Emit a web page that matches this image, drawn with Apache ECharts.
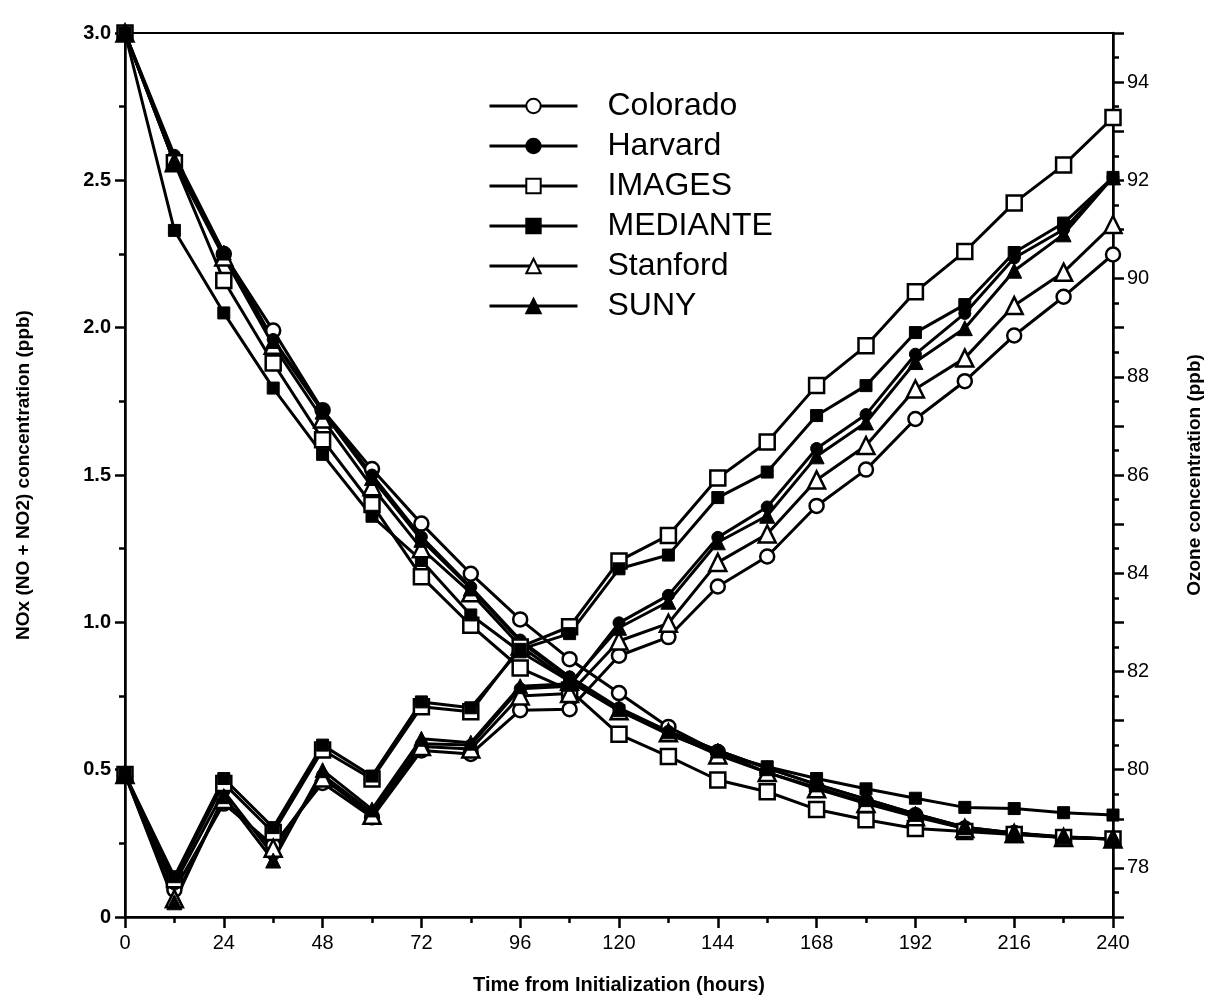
<!DOCTYPE html>
<html>
<head>
<meta charset="utf-8">
<title>NOx and ozone decay</title>
<script src="https://cdn.jsdelivr.net/npm/echarts@6/dist/echarts.min.js"></script>
<style>
  html, body { margin: 0; padding: 0; background: #fff; }
  #chart { width: 1212px; height: 1002px; }
</style>
</head>
<body>
<div id="chart"></div>
<script>
// Simulation time, hours after initialization
const hours = [0, 12, 24, 36, 48, 60, 72, 84, 96, 108, 120, 132, 144, 156, 168, 180, 192, 204, 216, 228, 240];

// NOx (NO + NO2), ppb
const noxColorado = [3.0, 2.57, 2.25, 1.99, 1.72, 1.52, 1.335, 1.165, 1.01, 0.875, 0.76, 0.645, 0.56, 0.49, 0.44, 0.39, 0.345, 0.30, 0.285, 0.27, 0.265];
const noxHarvard  = [3.0, 2.585, 2.255, 1.96, 1.72, 1.50, 1.29, 1.12, 0.94, 0.815, 0.71, 0.63, 0.565, 0.505, 0.45, 0.40, 0.35, 0.305, 0.285, 0.27, 0.265];
const noxImages   = [3.0, 2.56, 2.16, 1.88, 1.62, 1.40, 1.155, 0.99, 0.845, 0.77, 0.62, 0.545, 0.465, 0.425, 0.365, 0.33, 0.30, 0.29, 0.28, 0.27, 0.265];
const noxMediante = [3.0, 2.33, 2.05, 1.795, 1.57, 1.36, 1.21, 1.025, 0.90, 0.80, 0.70, 0.62, 0.556, 0.51, 0.47, 0.435, 0.403, 0.372, 0.368, 0.354, 0.346];
const noxStanford = [3.0, 2.56, 2.24, 1.94, 1.69, 1.46, 1.25, 1.10, 0.92, 0.80, 0.70, 0.625, 0.55, 0.49, 0.435, 0.385, 0.34, 0.30, 0.283, 0.27, 0.265];
const noxSuny     = [3.0, 2.56, 2.255, 1.955, 1.715, 1.49, 1.28, 1.115, 0.935, 0.81, 0.705, 0.63, 0.565, 0.505, 0.45, 0.40, 0.35, 0.305, 0.285, 0.272, 0.265];

// Ozone, ppb
const o3Colorado = [79.9, 77.55, 79.31, 78.46, 79.73, 79.03, 80.39, 80.32, 81.21, 81.23, 82.32, 82.70, 83.73, 84.34, 85.37, 86.11, 87.14, 87.91, 88.84, 89.63, 90.49];
const o3Harvard  = [79.9, 77.67, 79.56, 78.26, 79.89, 79.13, 80.53, 80.50, 81.65, 81.70, 82.99, 83.55, 84.73, 85.35, 86.54, 87.23, 88.46, 89.29, 90.42, 91.00, 92.06];
const o3Images   = [79.9, 77.76, 79.72, 78.72, 80.40, 79.81, 81.28, 81.18, 82.50, 82.91, 84.25, 84.77, 85.94, 86.67, 87.82, 88.63, 89.73, 90.55, 91.54, 92.31, 93.28];
const o3Mediante = [79.9, 77.82, 79.82, 78.82, 80.50, 79.87, 81.38, 81.26, 82.45, 82.77, 84.09, 84.37, 85.54, 86.06, 87.21, 87.82, 88.90, 89.47, 90.53, 91.13, 92.06];
const o3Stanford = [79.9, 77.37, 79.39, 78.40, 79.83, 79.07, 80.47, 80.42, 81.50, 81.55, 82.62, 82.98, 84.22, 84.80, 85.90, 86.60, 87.75, 88.38, 89.45, 90.13, 91.10];
const o3Suny     = [79.9, 77.30, 79.46, 78.15, 79.99, 79.19, 80.63, 80.55, 81.70, 81.75, 82.89, 83.42, 84.63, 85.17, 86.38, 87.07, 88.30, 88.99, 90.16, 90.90, 92.06];

// Axis tick labels
const xTicks = [0, 24, 48, 72, 96, 120, 144, 168, 192, 216, 240];
const noxTicks = [0, 0.5, 1.0, 1.5, 2.0, 2.5, 3.0];
const o3Ticks = [78, 80, 82, 84, 86, 88, 90, 92, 94];

const models = [
  { name: 'Colorado', symbol: 'circle',   open: true,  size: 14, nox: noxColorado, o3: o3Colorado },
  { name: 'Harvard',  symbol: 'circle',   open: false, size: 12, nox: noxHarvard,  o3: o3Harvard },
  { name: 'IMAGES',   symbol: 'rect',     open: true,  size: 15, nox: noxImages,   o3: o3Images },
  { name: 'MEDIANTE', symbol: 'rect',     open: false, size: 12, nox: noxMediante, o3: o3Mediante },
  { name: 'Stanford', symbol: 'triangle', open: true,  size: 17, nox: noxStanford, o3: o3Stanford },
  { name: 'SUNY',     symbol: 'triangle', open: false, size: 15, nox: noxSuny,     o3: o3Suny }
];

const FONT = '"Liberation Sans", Arial, Helvetica, sans-serif';
const BLACK = '#000';

function pairs(values) {
  return hours.map((h, i) => [h, values[i]]);
}

function markerStyle(m) {
  return m.open
    ? { color: '#fff', borderColor: BLACK, borderWidth: 2.5 }
    : { color: BLACK, borderColor: BLACK, borderWidth: 1 };
}

function makeSeries(m, values, axisIndex) {
  return {
    name: m.name,
    type: 'line',
    yAxisIndex: axisIndex,
    data: pairs(values),
    symbol: m.symbol,
    symbolSize: m.size,
    showAllSymbol: true,
    animation: false,
    lineStyle: { color: BLACK, width: 3 },
    itemStyle: markerStyle(m),
    emphasis: { disabled: true }
  };
}

const series = [];
models.forEach(m => series.push(makeSeries(m, m.nox, 0)));
models.forEach(m => series.push(makeSeries(m, m.o3, 1)));

const tickLine = { color: BLACK, width: 2.5 };

const chart = echarts.init(document.getElementById('chart'), null, { renderer: 'canvas' });

chart.setOption({
  backgroundColor: '#fff',
  animation: false,
  textStyle: { fontFamily: FONT, color: BLACK },
  grid: {
    left: 125, right: 99, top: 33, bottom: 85,
    show: true, borderColor: BLACK, borderWidth: 2, backgroundColor: 'transparent'
  },
  legend: {
    left: 483, top: 85,
    orient: 'vertical',
    itemWidth: 88, itemHeight: 18,
    itemGap: 8,
    data: models.map(m => m.name),
    selectedMode: false,
    lineStyle: { width: 3 },
    textStyle: { fontFamily: FONT, fontSize: 32, color: BLACK, lineHeight: 32, padding: [0, 0, 0, 25] }
  },
  xAxis: {
    type: 'value',
    min: 0, max: 240, interval: 24,
    name: 'Time from Initialization (hours)',
    nameLocation: 'middle',
    nameGap: 58,
    nameTextStyle: { fontFamily: FONT, fontSize: 20, fontWeight: 'bold', color: BLACK },
    axisLine: { show: true, onZero: false, lineStyle: { color: BLACK, width: 2.5 } },
    axisTick: { show: true, inside: false, length: 11, lineStyle: tickLine },
    minorTick: { show: true, splitNumber: 2, length: 6, lineStyle: tickLine },
    axisLabel: {
      margin: 16, fontSize: 20, fontFamily: FONT, color: BLACK,
      formatter: v => (xTicks.indexOf(v) >= 0 ? String(v) : '')
    },
    splitLine: { show: false },
    minorSplitLine: { show: false }
  },
  yAxis: [
    {
      type: 'value',
      position: 'left',
      min: 0, max: 3, interval: 0.5,
      name: 'NOx (NO + NO2) concentration (ppb)',
      nameLocation: 'middle',
      nameRotate: 90,
      nameGap: 92,
      nameTextStyle: { fontFamily: FONT, fontSize: 19, fontWeight: 'bold', color: BLACK },
      axisLine: { show: true, onZero: false, lineStyle: { color: BLACK, width: 2.5 } },
      axisTick: { show: true, length: 10, lineStyle: tickLine },
      minorTick: { show: true, splitNumber: 2, length: 6, lineStyle: tickLine },
      axisLabel: {
        margin: 14, fontSize: 20, fontWeight: 'bold', fontFamily: FONT, color: BLACK,
        formatter: v => {
          const hit = noxTicks.find(t => Math.abs(t - v) < 1e-6);
          if (hit === undefined) return '';
          return hit === 0 ? '0' : hit.toFixed(1);
        }
      },
      splitLine: { show: false },
      minorSplitLine: { show: false }
    },
    {
      type: 'value',
      position: 'right',
      min: 77, max: 95, interval: 1,
      name: 'Ozone concentration (ppb)',
      nameLocation: 'middle',
      nameRotate: 90,
      nameGap: 72,
      nameTextStyle: { fontFamily: FONT, fontSize: 19, fontWeight: 'bold', color: BLACK },
      axisLine: { show: true, onZero: false, lineStyle: { color: BLACK, width: 2.5 } },
      axisTick: { show: true, length: 11, lineStyle: tickLine },
      minorTick: { show: true, splitNumber: 2, length: 6, lineStyle: tickLine },
      axisLabel: {
        margin: 14, fontSize: 20, fontFamily: FONT, color: BLACK,
        showMinLabel: false, showMaxLabel: false,
        formatter: v => (o3Ticks.indexOf(Math.round(v)) >= 0 && Math.abs(v - Math.round(v)) < 1e-6 ? String(Math.round(v)) : '')
      },
      splitLine: { show: false },
      minorSplitLine: { show: false }
    }
  ],
  series: series
});
</script>
</body>
</html>
